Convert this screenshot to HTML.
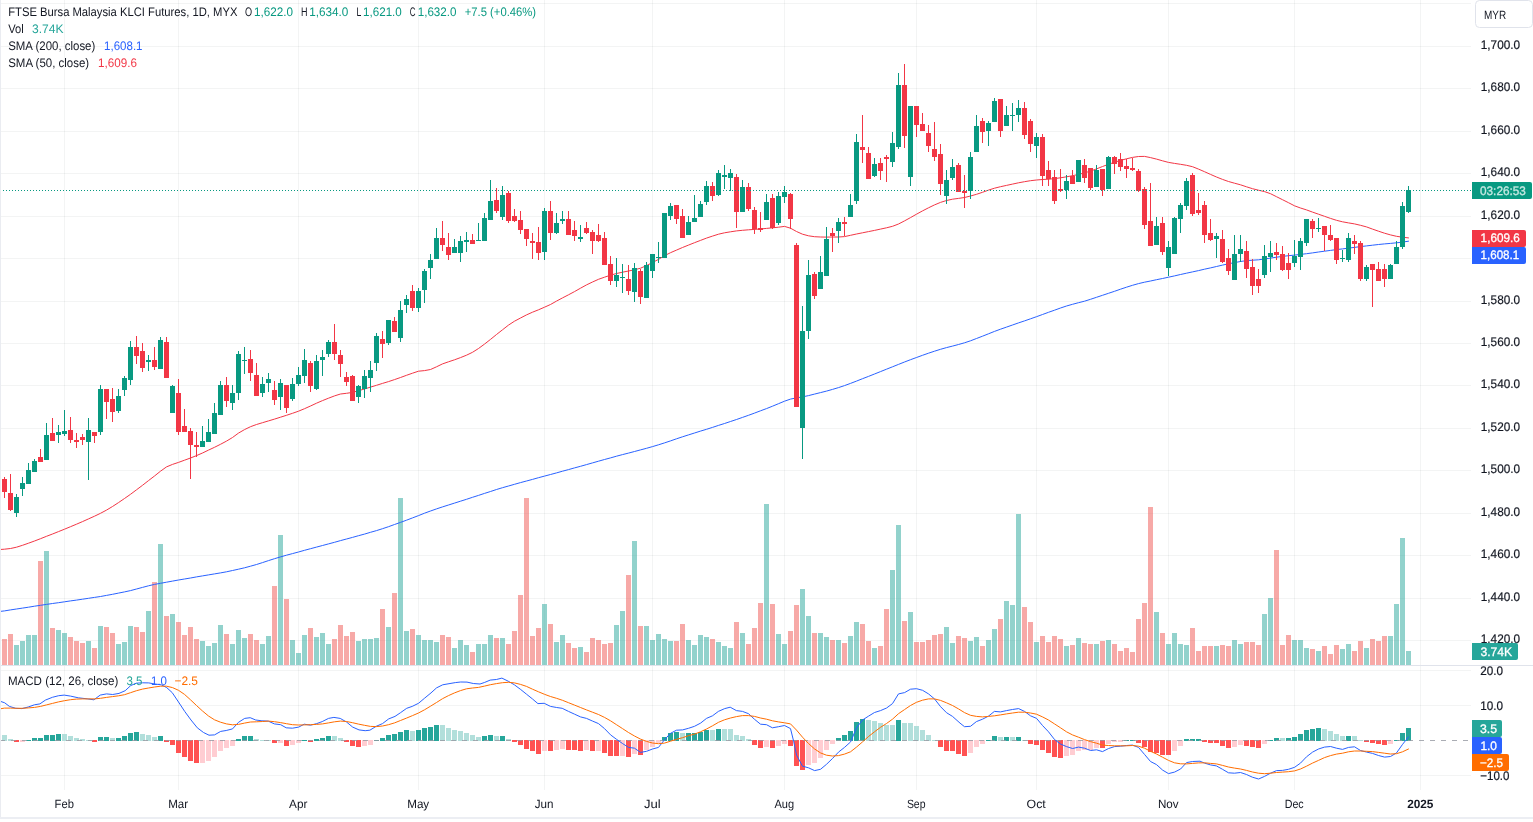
<!DOCTYPE html>
<html lang="en"><head><meta charset="utf-8"><title>FTSE Bursa Malaysia KLCI Futures</title>
<style>html,body{margin:0;padding:0;background:#fff;overflow:hidden}svg text{font-family:"Liberation Sans", Arial, sans-serif;white-space:pre;text-rendering:geometricPrecision}</style>
</head><body>
<svg width="1533" height="822" viewBox="0 0 1533 822" style="display:block;will-change:transform">
<rect width="1533" height="822" fill="#fff"/>
<g shape-rendering="crispEdges" fill="rgba(42,46,57,0.055)"><rect x="1" y="3" width="1470" height="1"/><rect x="1" y="46" width="1470" height="1"/><rect x="1" y="88" width="1470" height="1"/><rect x="1" y="131" width="1470" height="1"/><rect x="1" y="173" width="1470" height="1"/><rect x="1" y="216" width="1470" height="1"/><rect x="1" y="258" width="1470" height="1"/><rect x="1" y="301" width="1470" height="1"/><rect x="1" y="343" width="1470" height="1"/><rect x="1" y="385" width="1470" height="1"/><rect x="1" y="428" width="1470" height="1"/><rect x="1" y="470" width="1470" height="1"/><rect x="1" y="513" width="1470" height="1"/><rect x="1" y="555" width="1470" height="1"/><rect x="1" y="598" width="1470" height="1"/><rect x="1" y="640" width="1470" height="1"/><rect x="1" y="670" width="1470" height="1"/><rect x="1" y="705" width="1470" height="1"/><rect x="1" y="775" width="1470" height="1"/><rect x="64" y="0" width="1" height="665"/><rect x="64" y="666" width="1" height="124"/><rect x="178" y="0" width="1" height="665"/><rect x="178" y="666" width="1" height="124"/><rect x="298" y="0" width="1" height="665"/><rect x="298" y="666" width="1" height="124"/><rect x="418" y="0" width="1" height="665"/><rect x="418" y="666" width="1" height="124"/><rect x="544" y="0" width="1" height="665"/><rect x="544" y="666" width="1" height="124"/><rect x="652" y="0" width="1" height="665"/><rect x="652" y="666" width="1" height="124"/><rect x="784" y="0" width="1" height="665"/><rect x="784" y="666" width="1" height="124"/><rect x="916" y="0" width="1" height="665"/><rect x="916" y="666" width="1" height="124"/><rect x="1036" y="0" width="1" height="665"/><rect x="1036" y="666" width="1" height="124"/><rect x="1168" y="0" width="1" height="665"/><rect x="1168" y="666" width="1" height="124"/><rect x="1294" y="0" width="1" height="665"/><rect x="1294" y="666" width="1" height="124"/><rect x="1420" y="0" width="1" height="665"/><rect x="1420" y="666" width="1" height="124"/></g>
<g shape-rendering="crispEdges"><path fill="rgba(38,166,154,0.5)" d="M14 645h5V665h-5zM20 641h5V665h-5zM26 635h5V665h-5zM32 635h5V665h-5zM44 551h5V665h-5zM56 630h5V665h-5zM62 633h5V665h-5zM86 641h5V665h-5zM98 626h5V665h-5zM116 644h5V665h-5zM122 642h5V665h-5zM128 626h5V665h-5zM146 611h5V665h-5zM158 544h5V665h-5zM170 614h5V665h-5zM200 641h5V665h-5zM206 646h5V665h-5zM212 643h5V665h-5zM218 625h5V665h-5zM230 644h5V665h-5zM236 630h5V665h-5zM242 638h5V665h-5zM260 644h5V665h-5zM266 636h5V665h-5zM278 535h5V665h-5zM290 640h5V665h-5zM296 653h5V665h-5zM302 635h5V665h-5zM314 637h5V665h-5zM320 633h5V665h-5zM326 644h5V665h-5zM356 641h5V665h-5zM362 639h5V665h-5zM368 639h5V665h-5zM374 638h5V665h-5zM386 627h5V665h-5zM398 498h5V665h-5zM404 631h5V665h-5zM416 635h5V665h-5zM422 640h5V665h-5zM428 640h5V665h-5zM434 642h5V665h-5zM452 648h5V665h-5zM458 640h5V665h-5zM464 645h5V665h-5zM476 644h5V665h-5zM482 644h5V665h-5zM488 635h5V665h-5zM500 638h5V665h-5zM542 604h5V665h-5zM554 642h5V665h-5zM560 635h5V665h-5zM578 647h5V665h-5zM614 625h5V665h-5zM620 611h5V665h-5zM632 541h5V665h-5zM644 626h5V665h-5zM650 640h5V665h-5zM656 634h5V665h-5zM662 639h5V665h-5zM668 641h5V665h-5zM686 640h5V665h-5zM692 645h5V665h-5zM698 635h5V665h-5zM704 637h5V665h-5zM716 642h5V665h-5zM722 646h5V665h-5zM728 648h5V665h-5zM740 633h5V665h-5zM764 504h5V665h-5zM776 634h5V665h-5zM782 644h5V665h-5zM800 589h5V665h-5zM806 616h5V665h-5zM818 633h5V665h-5zM824 637h5V665h-5zM836 640h5V665h-5zM848 636h5V665h-5zM854 622h5V665h-5zM872 648h5V665h-5zM890 570h5V665h-5zM896 525h5V665h-5zM908 612h5V665h-5zM944 627h5V665h-5zM950 643h5V665h-5zM968 641h5V665h-5zM974 637h5V665h-5zM986 640h5V665h-5zM992 629h5V665h-5zM1004 601h5V665h-5zM1010 605h5V665h-5zM1016 514h5V665h-5zM1034 642h5V665h-5zM1064 646h5V665h-5zM1076 638h5V665h-5zM1094 644h5V665h-5zM1106 640h5V665h-5zM1154 612h5V665h-5zM1166 644h5V665h-5zM1172 633h5V665h-5zM1178 644h5V665h-5zM1184 645h5V665h-5zM1214 646h5V665h-5zM1232 640h5V665h-5zM1238 644h5V665h-5zM1262 614h5V665h-5zM1268 598h5V665h-5zM1292 640h5V665h-5zM1298 640h5V665h-5zM1304 648h5V665h-5zM1316 651h5V665h-5zM1340 649h5V665h-5zM1346 644h5V665h-5zM1364 648h5V665h-5zM1388 636h5V665h-5zM1394 604h5V665h-5zM1400 538h5V665h-5zM1406 651h5V665h-5z"/><path fill="rgba(239,83,80,0.5)" d="M2 639h5V665h-5zM8 634h5V665h-5zM38 561h5V665h-5zM50 628h5V665h-5zM68 637h5V665h-5zM74 641h5V665h-5zM80 643h5V665h-5zM92 648h5V665h-5zM104 627h5V665h-5zM110 633h5V665h-5zM134 627h5V665h-5zM140 632h5V665h-5zM152 582h5V665h-5zM164 616h5V665h-5zM176 622h5V665h-5zM182 635h5V665h-5zM188 627h5V665h-5zM194 639h5V665h-5zM224 634h5V665h-5zM248 634h5V665h-5zM254 640h5V665h-5zM272 586h5V665h-5zM284 599h5V665h-5zM308 628h5V665h-5zM332 639h5V665h-5zM338 625h5V665h-5zM344 636h5V665h-5zM350 632h5V665h-5zM380 609h5V665h-5zM392 593h5V665h-5zM410 629h5V665h-5zM440 635h5V665h-5zM446 637h5V665h-5zM470 652h5V665h-5zM494 638h5V665h-5zM506 644h5V665h-5zM512 631h5V665h-5zM518 595h5V665h-5zM524 498h5V665h-5zM530 636h5V665h-5zM536 628h5V665h-5zM548 624h5V665h-5zM566 643h5V665h-5zM572 648h5V665h-5zM584 652h5V665h-5zM590 638h5V665h-5zM596 640h5V665h-5zM602 644h5V665h-5zM608 643h5V665h-5zM626 575h5V665h-5zM638 626h5V665h-5zM674 641h5V665h-5zM680 624h5V665h-5zM710 639h5V665h-5zM734 622h5V665h-5zM746 644h5V665h-5zM752 628h5V665h-5zM758 603h5V665h-5zM770 604h5V665h-5zM788 631h5V665h-5zM794 605h5V665h-5zM812 633h5V665h-5zM830 640h5V665h-5zM842 643h5V665h-5zM860 624h5V665h-5zM866 641h5V665h-5zM878 646h5V665h-5zM884 609h5V665h-5zM902 621h5V665h-5zM914 642h5V665h-5zM920 642h5V665h-5zM926 640h5V665h-5zM932 635h5V665h-5zM938 634h5V665h-5zM956 636h5V665h-5zM962 638h5V665h-5zM980 646h5V665h-5zM998 619h5V665h-5zM1022 607h5V665h-5zM1028 622h5V665h-5zM1040 636h5V665h-5zM1046 642h5V665h-5zM1052 636h5V665h-5zM1058 639h5V665h-5zM1070 645h5V665h-5zM1082 643h5V665h-5zM1088 644h5V665h-5zM1100 641h5V665h-5zM1112 644h5V665h-5zM1118 651h5V665h-5zM1124 648h5V665h-5zM1130 652h5V665h-5zM1136 619h5V665h-5zM1142 603h5V665h-5zM1148 507h5V665h-5zM1160 633h5V665h-5zM1190 628h5V665h-5zM1196 651h5V665h-5zM1202 646h5V665h-5zM1208 646h5V665h-5zM1220 645h5V665h-5zM1226 646h5V665h-5zM1244 642h5V665h-5zM1250 642h5V665h-5zM1256 645h5V665h-5zM1274 550h5V665h-5zM1280 645h5V665h-5zM1286 635h5V665h-5zM1310 649h5V665h-5zM1322 646h5V665h-5zM1328 654h5V665h-5zM1334 645h5V665h-5zM1352 651h5V665h-5zM1358 641h5V665h-5zM1370 639h5V665h-5zM1376 641h5V665h-5zM1382 636h5V665h-5z"/><rect x="0" y="641" width="1" height="24" fill="rgba(239,83,80,0.5)"/></g>
<path d="M-1.5 611.6 L4.5 610.9 L10.5 609.9 L16.5 609.0 L22.5 608.1 L28.5 607.2 L34.5 606.2 L40.5 605.3 L46.5 604.4 L52.5 603.5 L58.5 602.7 L64.5 601.8 L70.5 600.9 L76.5 600.1 L82.5 599.2 L88.5 598.3 L94.5 597.4 L100.5 596.5 L106.5 595.4 L112.5 594.3 L118.5 593.1 L124.5 591.9 L130.5 590.6 L136.5 589.0 L142.5 587.4 L148.5 585.8 L154.5 584.4 L160.5 583.3 L166.5 582.2 L172.5 581.1 L178.5 580.0 L184.5 579.0 L190.5 578.0 L196.5 576.9 L202.5 575.9 L208.5 574.9 L214.5 573.9 L220.5 572.9 L226.5 571.8 L232.5 570.5 L238.5 569.2 L244.5 567.8 L250.5 566.2 L256.5 564.5 L262.5 562.6 L268.5 560.6 L274.5 558.7 L280.5 556.9 L286.5 555.2 L292.5 553.6 L298.5 552.0 L304.5 550.3 L310.5 548.7 L316.5 547.1 L322.5 545.5 L328.5 543.9 L334.5 542.3 L340.5 540.6 L346.5 539.0 L352.5 537.4 L358.5 535.7 L364.5 534.1 L370.5 532.3 L376.5 530.6 L382.5 528.7 L388.5 526.7 L394.5 524.5 L400.5 522.4 L406.5 520.2 L412.5 517.9 L418.5 515.6 L424.5 513.2 L430.5 511.0 L436.5 508.9 L442.5 506.9 L448.5 505.0 L454.5 503.1 L460.5 501.2 L466.5 499.3 L472.5 497.3 L478.5 495.4 L484.5 493.4 L490.5 491.5 L496.5 489.5 L502.5 487.7 L508.5 486.0 L514.5 484.3 L520.5 482.6 L526.5 481.0 L532.5 479.4 L538.5 477.7 L544.5 476.1 L550.5 474.5 L556.5 472.9 L562.5 471.2 L568.5 469.6 L574.5 467.9 L580.5 466.3 L586.5 464.6 L592.5 462.9 L598.5 461.2 L604.5 459.5 L610.5 457.9 L616.5 456.2 L622.5 454.6 L628.5 453.1 L634.5 451.5 L640.5 449.9 L646.5 448.3 L652.5 446.6 L658.5 444.8 L664.5 442.9 L670.5 440.9 L676.5 438.8 L682.5 436.8 L688.5 434.9 L694.5 433.0 L700.5 431.1 L706.5 429.3 L712.5 427.4 L718.5 425.4 L724.5 423.5 L730.5 421.5 L736.5 419.5 L742.5 417.4 L748.5 415.3 L754.5 413.1 L760.5 410.8 L766.5 408.6 L772.5 406.2 L778.5 403.7 L784.5 401.2 L790.5 399.1 L796.5 397.9 L802.5 396.9 L808.5 395.6 L814.5 394.1 L820.5 392.6 L826.5 391.1 L832.5 389.4 L838.5 387.6 L844.5 385.6 L850.5 383.4 L856.5 381.1 L862.5 378.7 L868.5 376.4 L874.5 374.0 L880.5 371.6 L886.5 369.2 L892.5 366.8 L898.5 364.4 L904.5 362.0 L910.5 359.7 L916.5 357.5 L922.5 355.3 L928.5 353.2 L934.5 351.2 L940.5 349.3 L946.5 347.6 L952.5 346.1 L958.5 344.5 L964.5 342.8 L970.5 340.8 L976.5 338.5 L982.5 336.2 L988.5 333.8 L994.5 331.4 L1000.5 329.2 L1006.5 327.1 L1012.5 325.0 L1018.5 322.9 L1024.5 320.9 L1030.5 318.8 L1036.5 316.7 L1042.5 314.5 L1048.5 312.3 L1054.5 310.2 L1060.5 308.0 L1066.5 306.0 L1072.5 304.3 L1078.5 302.7 L1084.5 301.2 L1090.5 299.3 L1096.5 297.3 L1102.5 295.3 L1108.5 293.3 L1114.5 291.3 L1120.5 289.2 L1126.5 287.2 L1132.5 285.3 L1138.5 283.6 L1144.5 282.2 L1150.5 281.0 L1156.5 279.7 L1162.5 278.5 L1168.5 277.2 L1174.5 275.9 L1180.5 274.5 L1186.5 273.2 L1192.5 271.9 L1198.5 270.6 L1204.5 269.2 L1210.5 267.9 L1216.5 266.5 L1222.5 265.1 L1228.5 263.8 L1234.5 262.6 L1240.5 261.5 L1246.5 260.6 L1252.5 260.2 L1258.5 259.8 L1264.5 259.0 L1270.5 258.1 L1276.5 257.2 L1282.5 256.4 L1288.5 255.7 L1294.5 255.1 L1300.5 254.4 L1306.5 253.7 L1312.5 252.9 L1318.5 252.0 L1324.5 251.2 L1330.5 250.4 L1336.5 249.6 L1342.5 248.9 L1348.5 248.1 L1354.5 247.4 L1360.5 246.6 L1366.5 245.9 L1372.5 245.2 L1378.5 244.5 L1384.5 243.9 L1390.5 243.4 L1396.5 242.8 L1402.5 242.1 L1408.5 241.2" fill="none" stroke="#2962ff" stroke-width="1" stroke-linejoin="round" stroke-linecap="round"/>
<path d="M-1.5 549.6 L4.5 549.2 L10.5 548.5 L16.5 547.2 L22.5 545.3 L28.5 543.2 L34.5 541.0 L40.5 538.7 L46.5 536.3 L52.5 534.0 L58.5 531.6 L64.5 529.2 L70.5 526.7 L76.5 524.2 L82.5 521.6 L88.5 518.9 L94.5 516.2 L100.5 513.3 L106.5 510.1 L112.5 506.5 L118.5 502.6 L124.5 498.5 L130.5 494.3 L136.5 489.8 L142.5 485.3 L148.5 480.6 L154.5 476.0 L160.5 471.2 L166.5 466.9 L172.5 464.4 L178.5 462.4 L184.5 460.2 L190.5 458.0 L196.5 455.6 L202.5 453.0 L208.5 450.1 L214.5 447.3 L220.5 444.3 L226.5 441.1 L232.5 437.5 L238.5 433.1 L244.5 429.6 L250.5 426.7 L256.5 424.5 L262.5 422.7 L268.5 420.9 L274.5 419.1 L280.5 417.2 L286.5 415.3 L292.5 413.3 L298.5 411.2 L304.5 408.7 L310.5 406.0 L316.5 403.2 L322.5 400.6 L328.5 398.2 L334.5 395.9 L340.5 394.0 L346.5 393.3 L352.5 392.4 L358.5 390.7 L364.5 389.0 L370.5 387.1 L376.5 385.3 L382.5 383.4 L388.5 381.6 L394.5 379.6 L400.5 377.5 L406.5 375.3 L412.5 373.2 L418.5 371.2 L424.5 370.6 L430.5 369.5 L436.5 366.8 L442.5 363.9 L448.5 361.8 L454.5 359.8 L460.5 357.6 L466.5 355.2 L472.5 352.3 L478.5 348.5 L484.5 344.1 L490.5 339.4 L496.5 334.5 L502.5 329.8 L508.5 325.1 L514.5 321.2 L520.5 318.0 L526.5 314.9 L532.5 312.2 L538.5 309.8 L544.5 307.2 L550.5 304.5 L556.5 301.1 L562.5 297.9 L568.5 294.8 L574.5 291.6 L580.5 288.2 L586.5 284.9 L592.5 282.0 L598.5 279.3 L604.5 277.2 L610.5 275.2 L616.5 273.5 L622.5 272.2 L628.5 271.0 L634.5 269.8 L640.5 268.2 L646.5 265.6 L652.5 262.5 L658.5 259.4 L664.5 255.7 L670.5 252.7 L676.5 250.1 L682.5 247.5 L688.5 245.1 L694.5 242.7 L700.5 240.4 L706.5 238.1 L712.5 236.1 L718.5 234.2 L724.5 232.8 L730.5 231.8 L736.5 230.9 L742.5 230.3 L748.5 229.8 L754.5 229.4 L760.5 229.0 L766.5 228.4 L772.5 227.8 L778.5 227.2 L784.5 226.4 L790.5 228.2 L796.5 231.5 L802.5 234.2 L808.5 235.8 L814.5 236.7 L820.5 237.0 L826.5 237.1 L832.5 237.0 L838.5 237.0 L844.5 236.6 L850.5 235.3 L856.5 234.0 L862.5 232.8 L868.5 231.6 L874.5 230.4 L880.5 229.1 L886.5 227.8 L892.5 226.3 L898.5 224.0 L904.5 220.9 L910.5 217.6 L916.5 214.2 L922.5 210.9 L928.5 207.8 L934.5 204.9 L940.5 202.4 L946.5 200.5 L952.5 199.2 L958.5 198.4 L964.5 197.5 L970.5 196.0 L976.5 194.3 L982.5 192.3 L988.5 190.1 L994.5 188.2 L1000.5 186.7 L1006.5 185.4 L1012.5 184.1 L1018.5 182.8 L1024.5 181.7 L1030.5 180.7 L1036.5 180.0 L1042.5 179.5 L1048.5 179.2 L1054.5 178.6 L1060.5 177.8 L1066.5 176.8 L1072.5 175.7 L1078.5 174.4 L1084.5 172.9 L1090.5 171.1 L1096.5 168.9 L1102.5 166.5 L1108.5 164.3 L1114.5 162.3 L1120.5 160.4 L1126.5 158.8 L1132.5 157.4 L1138.5 156.5 L1144.5 156.4 L1150.5 157.6 L1156.5 159.1 L1162.5 160.8 L1168.5 162.4 L1174.5 163.4 L1180.5 164.3 L1186.5 165.3 L1192.5 166.7 L1198.5 169.1 L1204.5 171.7 L1210.5 174.4 L1216.5 177.0 L1222.5 179.4 L1228.5 181.5 L1234.5 183.2 L1240.5 184.8 L1246.5 186.8 L1252.5 188.7 L1258.5 190.2 L1264.5 191.6 L1270.5 193.7 L1276.5 196.7 L1282.5 199.7 L1288.5 202.7 L1294.5 205.8 L1300.5 208.0 L1306.5 209.9 L1312.5 212.1 L1318.5 214.2 L1324.5 216.3 L1330.5 218.4 L1336.5 220.3 L1342.5 221.8 L1348.5 222.9 L1354.5 223.9 L1360.5 225.3 L1366.5 226.9 L1372.5 229.1 L1378.5 231.2 L1384.5 233.2 L1390.5 234.9 L1396.5 236.3 L1402.5 237.2 L1408.5 237.9" fill="none" stroke="#f23645" stroke-width="1" stroke-linejoin="round" stroke-linecap="round"/>
<g shape-rendering="crispEdges"><path fill="#089981" d="M16 494h1V517h-1zM14 497h5V513h-5zM22 477h1V496h-1zM20 483h5V489h-5zM28 463h1V484h-1zM26 470h5V484h-5zM34 459h1V472h-1zM32 461h5V472h-5zM46 423h1V460h-1zM44 435h5V460h-5zM58 425h1V443h-1zM56 432h5V435h-5zM64 410h1V436h-1zM62 431h5V434h-5zM88 418h1V480h-1zM86 430h5V442h-5zM100 385h1V435h-1zM98 389h5V432h-5zM118 389h1V413h-1zM116 396h5V411h-5zM124 376h1V396h-1zM122 378h5V390h-5zM130 341h1V385h-1zM128 347h5V380h-5zM148 355h1V371h-1zM146 360h5V362h-5zM160 337h1V369h-1zM158 340h5V369h-5zM172 385h1V413h-1zM170 386h5V413h-5zM202 426h1V447h-1zM200 441h5V447h-5zM208 419h1V442h-1zM206 432h5V442h-5zM214 403h1V434h-1zM212 413h5V434h-5zM220 381h1V415h-1zM218 385h5V415h-5zM232 385h1V410h-1zM230 393h5V403h-5zM238 351h1V400h-1zM236 354h5V393h-5zM244 347h1V374h-1zM242 360h5V361h-5zM262 377h1V397h-1zM260 384h5V393h-5zM268 373h1V392h-1zM266 379h5V383h-5zM280 379h1V410h-1zM278 383h5V397h-5zM292 378h1V401h-1zM290 384h5V399h-5zM298 367h1V386h-1zM296 375h5V384h-5zM304 349h1V383h-1zM302 360h5V376h-5zM316 355h1V390h-1zM314 361h5V389h-5zM322 350h1V376h-1zM320 357h5V360h-5zM328 340h1V357h-1zM326 342h5V354h-5zM358 385h1V403h-1zM356 386h5V397h-5zM364 370h1V398h-1zM362 376h5V389h-5zM370 361h1V392h-1zM368 370h5V378h-5zM376 333h1V371h-1zM374 336h5V363h-5zM388 320h1V345h-1zM386 320h5V343h-5zM400 301h1V342h-1zM398 310h5V338h-5zM406 295h1V313h-1zM404 299h5V305h-5zM418 288h1V312h-1zM416 291h5V308h-5zM424 269h1V303h-1zM422 271h5V290h-5zM430 254h1V279h-1zM428 260h5V268h-5zM436 228h1V259h-1zM434 238h5V259h-5zM454 239h1V253h-1zM452 247h5V253h-5zM460 236h1V262h-1zM458 241h5V253h-5zM466 232h1V252h-1zM464 240h5V242h-5zM478 223h1V241h-1zM476 240h5V241h-5zM484 213h1V241h-1zM482 218h5V241h-5zM490 180h1V220h-1zM488 201h5V220h-5zM502 186h1V220h-1zM500 195h5V217h-5zM544 208h1V260h-1zM542 211h5V252h-5zM556 213h1V234h-1zM554 223h5V233h-5zM562 211h1V224h-1zM560 219h5V221h-5zM580 225h1V242h-1zM578 237h5V239h-5zM616 258h1V287h-1zM614 275h5V281h-5zM622 264h1V293h-1zM620 277h5V278h-5zM634 263h1V302h-1zM632 268h5V292h-5zM646 262h1V298h-1zM644 265h5V298h-5zM652 254h1V278h-1zM650 254h5V271h-5zM658 242h1V263h-1zM656 257h5V258h-5zM664 213h1V258h-1zM662 213h5V258h-5zM670 203h1V220h-1zM668 206h5V216h-5zM688 216h1V235h-1zM686 222h5V235h-5zM694 195h1V222h-1zM692 218h5V222h-5zM700 201h1V217h-1zM698 204h5V217h-5zM706 181h1V205h-1zM704 186h5V202h-5zM718 170h1V196h-1zM716 173h5V195h-5zM724 165h1V189h-1zM722 175h5V177h-5zM730 169h1V191h-1zM728 173h5V178h-5zM742 180h1V212h-1zM740 187h5V212h-5zM766 194h1V220h-1zM764 202h5V220h-5zM778 192h1V225h-1zM776 196h5V223h-5zM784 186h1V203h-1zM782 192h5V197h-5zM802 306h1V459h-1zM800 331h5V428h-5zM808 260h1V339h-1zM806 275h5V331h-5zM820 256h1V289h-1zM818 272h5V289h-5zM826 227h1V276h-1zM824 239h5V276h-5zM838 218h1V243h-1zM836 222h5V231h-5zM850 194h1V217h-1zM848 205h5V217h-5zM856 134h1V204h-1zM854 142h5V201h-5zM874 158h1V177h-1zM872 164h5V176h-5zM892 132h1V167h-1zM890 143h5V162h-5zM898 73h1V149h-1zM896 85h5V147h-5zM910 106h1V186h-1zM908 106h5V177h-5zM946 170h1V204h-1zM944 180h5V196h-5zM952 159h1V180h-1zM950 167h5V178h-5zM970 152h1V199h-1zM968 157h5V191h-5zM976 115h1V152h-1zM974 126h5V152h-5zM988 121h1V146h-1zM986 123h5V131h-5zM994 98h1V122h-1zM992 101h5V122h-5zM1006 106h1V126h-1zM1004 115h5V126h-5zM1012 103h1V131h-1zM1010 115h5V116h-5zM1018 100h1V122h-1zM1016 108h5V115h-5zM1036 133h1V158h-1zM1034 137h5V146h-5zM1066 175h1V199h-1zM1064 181h5V190h-5zM1078 160h1V182h-1zM1076 160h5V182h-5zM1096 165h1V187h-1zM1094 170h5V187h-5zM1108 156h1V189h-1zM1106 157h5V189h-5zM1156 217h1V245h-1zM1154 226h5V245h-5zM1168 241h1V276h-1zM1166 247h5V268h-5zM1174 217h1V254h-1zM1172 218h5V254h-5zM1180 203h1V233h-1zM1178 205h5V219h-5zM1186 178h1V210h-1zM1184 181h5V206h-5zM1216 233h1V258h-1zM1214 236h5V239h-5zM1234 235h1V280h-1zM1232 254h5V280h-5zM1240 235h1V262h-1zM1238 249h5V254h-5zM1264 245h1V278h-1zM1262 256h5V275h-5zM1270 241h1V272h-1zM1268 253h5V257h-5zM1294 240h1V267h-1zM1292 256h5V263h-5zM1300 238h1V270h-1zM1298 241h5V257h-5zM1306 219h1V246h-1zM1304 219h5V243h-5zM1318 218h1V232h-1zM1316 228h5V229h-5zM1342 250h1V262h-1zM1340 258h5V259h-5zM1348 233h1V262h-1zM1346 238h5V260h-5zM1366 265h1V281h-1zM1364 267h5V279h-5zM1390 264h1V279h-1zM1388 265h5V279h-5zM1396 241h1V264h-1zM1394 247h5V264h-5zM1402 202h1V249h-1zM1400 206h5V247h-5zM1408 186h1V213h-1zM1406 190h5V212h-5z"/><path fill="#f23645" d="M4 477h1V498h-1zM2 479h5V492h-5zM10 474h1V511h-1zM8 493h5V510h-5zM40 449h1V462h-1zM38 457h5V462h-5zM52 418h1V441h-1zM50 433h5V441h-5zM70 417h1V443h-1zM68 430h5V440h-5zM76 433h1V448h-1zM74 440h5V442h-5zM82 434h1V445h-1zM80 437h5V440h-5zM94 432h1V443h-1zM92 432h5V436h-5zM106 389h1V419h-1zM104 389h5V402h-5zM112 388h1V422h-1zM110 399h5V412h-5zM136 336h1V364h-1zM134 347h5V356h-5zM142 343h1V372h-1zM140 351h5V368h-5zM154 347h1V370h-1zM152 360h5V367h-5zM166 337h1V378h-1zM164 342h5V378h-5zM178 379h1V435h-1zM176 393h5V432h-5zM184 409h1V432h-1zM182 426h5V432h-5zM190 428h1V479h-1zM188 431h5V445h-5zM196 432h1V457h-1zM194 445h5V447h-5zM226 377h1V407h-1zM224 385h5V401h-5zM250 350h1V381h-1zM248 359h5V373h-5zM256 363h1V396h-1zM254 375h5V396h-5zM274 381h1V405h-1zM272 390h5V400h-5zM286 385h1V413h-1zM284 385h5V408h-5zM310 361h1V392h-1zM308 363h5V386h-5zM334 324h1V360h-1zM332 342h5V354h-5zM340 350h1V377h-1zM338 355h5V364h-5zM346 372h1V386h-1zM344 377h5V382h-5zM352 375h1V401h-1zM350 376h5V401h-5zM382 331h1V358h-1zM380 339h5V344h-5zM394 317h1V332h-1zM392 321h5V332h-5zM412 285h1V311h-1zM410 291h5V308h-5zM442 221h1V251h-1zM440 238h5V245h-5zM448 233h1V260h-1zM446 247h5V255h-5zM472 234h1V244h-1zM470 240h5V244h-5zM496 188h1V213h-1zM494 200h5V211h-5zM508 191h1V223h-1zM506 193h5V221h-5zM514 209h1V222h-1zM512 216h5V221h-5zM520 211h1V234h-1zM518 220h5V230h-5zM526 229h1V246h-1zM524 229h5V239h-5zM532 233h1V259h-1zM530 241h5V243h-5zM538 227h1V260h-1zM536 242h5V253h-5zM550 201h1V240h-1zM548 211h5V233h-5zM568 211h1V235h-1zM566 219h5V235h-5zM574 221h1V241h-1zM572 230h5V236h-5zM586 222h1V234h-1zM584 228h5V233h-5zM592 230h1V254h-1zM590 232h5V241h-5zM598 224h1V242h-1zM596 235h5V241h-5zM604 232h1V265h-1zM602 238h5V265h-5zM610 256h1V285h-1zM608 264h5V281h-5zM628 265h1V295h-1zM626 279h5V291h-5zM640 269h1V304h-1zM638 271h5V297h-5zM676 205h1V224h-1zM674 205h5V219h-5zM682 209h1V238h-1zM680 216h5V238h-5zM712 182h1V201h-1zM710 186h5V196h-5zM736 174h1V228h-1zM734 177h5V212h-5zM748 183h1V211h-1zM746 187h5V209h-5zM754 207h1V234h-1zM752 210h5V229h-5zM760 212h1V232h-1zM758 228h5V230h-5zM772 194h1V229h-1zM770 198h5V228h-5zM790 193h1V229h-1zM788 194h5V219h-5zM796 243h1V407h-1zM794 245h5V407h-5zM814 272h1V299h-1zM812 274h5V296h-5zM832 228h1V252h-1zM830 233h5V236h-5zM844 217h1V236h-1zM842 222h5V224h-5zM862 115h1V163h-1zM860 147h5V150h-5zM868 147h1V179h-1zM866 153h5V179h-5zM880 158h1V180h-1zM878 163h5V171h-5zM886 155h1V182h-1zM884 157h5V159h-5zM904 64h1V148h-1zM902 85h5V136h-5zM916 106h1V137h-1zM914 106h5V125h-5zM922 113h1V131h-1zM920 124h5V131h-5zM928 125h1V152h-1zM926 133h5V146h-5zM934 122h1V161h-1zM932 149h5V157h-5zM940 144h1V195h-1zM938 154h5V184h-5zM958 163h1V192h-1zM956 165h5V192h-5zM964 175h1V208h-1zM962 191h5V193h-5zM982 118h1V143h-1zM980 121h5V132h-5zM1000 99h1V137h-1zM998 99h5V131h-5zM1024 102h1V139h-1zM1022 108h5V135h-5zM1030 119h1V152h-1zM1028 121h5V144h-5zM1042 134h1V186h-1zM1040 137h5V176h-5zM1048 161h1V186h-1zM1046 170h5V179h-5zM1054 170h1V204h-1zM1052 177h5V201h-5zM1060 169h1V192h-1zM1058 189h5V191h-5zM1072 170h1V184h-1zM1070 176h5V184h-5zM1084 159h1V183h-1zM1082 165h5V178h-5zM1090 168h1V190h-1zM1088 168h5V188h-5zM1102 169h1V196h-1zM1100 169h5V190h-5zM1114 156h1V174h-1zM1112 157h5V164h-5zM1120 153h1V171h-1zM1118 159h5V167h-5zM1126 159h1V178h-1zM1124 166h5V169h-5zM1132 158h1V171h-1zM1130 168h5V170h-5zM1138 169h1V192h-1zM1136 171h5V191h-5zM1144 187h1V229h-1zM1142 189h5V225h-5zM1150 183h1V246h-1zM1148 221h5V246h-5zM1162 217h1V255h-1zM1160 223h5V252h-5zM1192 173h1V216h-1zM1190 175h5V214h-5zM1198 193h1V215h-1zM1196 210h5V213h-5zM1204 201h1V243h-1zM1202 205h5V235h-5zM1210 219h1V241h-1zM1208 233h5V240h-5zM1222 230h1V263h-1zM1220 239h5V262h-5zM1228 249h1V275h-1zM1226 258h5V271h-5zM1246 241h1V278h-1zM1244 251h5V269h-5zM1252 259h1V295h-1zM1250 267h5V286h-5zM1258 269h1V293h-1zM1256 279h5V286h-5zM1276 243h1V260h-1zM1274 252h5V255h-5zM1282 246h1V271h-1zM1280 254h5V270h-5zM1288 253h1V279h-1zM1286 263h5V270h-5zM1312 219h1V238h-1zM1310 221h5V229h-5zM1324 226h1V251h-1zM1322 226h5V235h-5zM1330 225h1V241h-1zM1328 235h5V240h-5zM1336 238h1V264h-1zM1334 238h5V260h-5zM1354 235h1V254h-1zM1352 241h5V244h-5zM1360 241h1V281h-1zM1358 243h5V279h-5zM1372 264h1V307h-1zM1370 264h5V270h-5zM1378 262h1V281h-1zM1376 269h5V281h-5zM1384 264h1V287h-1zM1382 269h5V279h-5z"/></g>
<g shape-rendering="crispEdges"><line x1="0" y1="190.5" x2="1471" y2="190.5" stroke="#089981" stroke-width="1" stroke-dasharray="1 2"/></g>
<rect x="0" y="665" width="1533" height="1" fill="#e0e3eb" shape-rendering="crispEdges"/>
<g shape-rendering="crispEdges"><path fill="#26a69a" d="M26 740h5V741h-5zM32 738h5V741h-5zM38 738h5V741h-5zM44 735h5V741h-5zM50 735h5V741h-5zM56 734h5V741h-5zM98 737h5V741h-5zM104 737h5V741h-5zM116 738h5V741h-5zM122 736h5V741h-5zM128 733h5V741h-5zM134 732h5V741h-5zM158 736h5V741h-5zM236 739h5V741h-5zM242 736h5V741h-5zM248 736h5V741h-5zM302 740h5V741h-5zM314 739h5V741h-5zM320 738h5V741h-5zM326 736h5V741h-5zM374 740h5V741h-5zM380 738h5V741h-5zM386 735h5V741h-5zM392 734h5V741h-5zM398 732h5V741h-5zM404 730h5V741h-5zM416 730h5V741h-5zM422 728h5V741h-5zM428 727h5V741h-5zM434 725h5V741h-5zM482 736h5V741h-5zM488 735h5V741h-5zM500 736h5V741h-5zM662 737h5V741h-5zM668 733h5V741h-5zM674 732h5V741h-5zM686 733h5V741h-5zM692 733h5V741h-5zM698 732h5V741h-5zM704 730h5V741h-5zM716 729h5V741h-5zM836 738h5V741h-5zM842 735h5V741h-5zM848 731h5V741h-5zM854 722h5V741h-5zM860 719h5V741h-5zM896 720h5V741h-5zM986 740h5V741h-5zM992 736h5V741h-5zM1004 737h5V741h-5zM1016 737h5V741h-5zM1124 740h5V741h-5zM1130 740h5V741h-5zM1184 739h5V741h-5zM1190 739h5V741h-5zM1196 739h5V741h-5zM1268 740h5V741h-5zM1274 738h5V741h-5zM1286 738h5V741h-5zM1292 737h5V741h-5zM1298 734h5V741h-5zM1304 730h5V741h-5zM1310 729h5V741h-5zM1316 728h5V741h-5zM1346 736h5V741h-5zM1394 740h5V741h-5zM1400 733h5V741h-5zM1406 728h5V741h-5z"/><path fill="#b2dfdb" d="M2 735h5V741h-5zM8 739h5V741h-5zM62 734h5V741h-5zM68 736h5V741h-5zM74 738h5V741h-5zM80 739h5V741h-5zM86 740h5V741h-5zM110 738h5V741h-5zM140 734h5V741h-5zM146 735h5V741h-5zM152 737h5V741h-5zM254 739h5V741h-5zM260 740h5V741h-5zM266 740h5V741h-5zM332 736h5V741h-5zM338 738h5V741h-5zM410 731h5V741h-5zM440 725h5V741h-5zM446 728h5V741h-5zM452 730h5V741h-5zM458 731h5V741h-5zM464 733h5V741h-5zM470 735h5V741h-5zM476 737h5V741h-5zM494 736h5V741h-5zM506 739h5V741h-5zM680 733h5V741h-5zM710 730h5V741h-5zM722 729h5V741h-5zM728 729h5V741h-5zM734 735h5V741h-5zM740 736h5V741h-5zM746 739h5V741h-5zM866 720h5V741h-5zM872 721h5V741h-5zM878 723h5V741h-5zM884 725h5V741h-5zM890 725h5V741h-5zM902 723h5V741h-5zM908 723h5V741h-5zM914 726h5V741h-5zM920 730h5V741h-5zM926 735h5V741h-5zM932 740h5V741h-5zM998 737h5V741h-5zM1010 737h5V741h-5zM1022 740h5V741h-5zM1280 738h5V741h-5zM1322 729h5V741h-5zM1328 731h5V741h-5zM1334 734h5V741h-5zM1340 736h5V741h-5zM1352 736h5V741h-5zM1358 740h5V741h-5z"/><path fill="#ff5252" d="M14 740h5V742h-5zM92 740h5V742h-5zM164 740h5V742h-5zM170 740h5V745h-5zM176 740h5V753h-5zM182 740h5V757h-5zM188 740h5V761h-5zM194 740h5V763h-5zM272 740h5V743h-5zM284 740h5V746h-5zM308 740h5V742h-5zM344 740h5V742h-5zM350 740h5V746h-5zM356 740h5V747h-5zM512 740h5V742h-5zM518 740h5V745h-5zM524 740h5V749h-5zM530 740h5V751h-5zM536 740h5V754h-5zM548 740h5V751h-5zM566 740h5V750h-5zM572 740h5V750h-5zM578 740h5V751h-5zM590 740h5V751h-5zM602 740h5V753h-5zM608 740h5V756h-5zM614 740h5V756h-5zM626 740h5V757h-5zM638 740h5V755h-5zM752 740h5V745h-5zM758 740h5V748h-5zM770 740h5V748h-5zM788 740h5V746h-5zM794 740h5V766h-5zM800 740h5V770h-5zM938 740h5V747h-5zM944 740h5V751h-5zM950 740h5V751h-5zM956 740h5V754h-5zM962 740h5V756h-5zM1028 740h5V744h-5zM1034 740h5V745h-5zM1040 740h5V750h-5zM1046 740h5V753h-5zM1052 740h5V757h-5zM1058 740h5V758h-5zM1100 740h5V748h-5zM1136 740h5V743h-5zM1142 740h5V747h-5zM1148 740h5V752h-5zM1154 740h5V753h-5zM1160 740h5V755h-5zM1166 740h5V755h-5zM1202 740h5V742h-5zM1208 740h5V743h-5zM1214 740h5V743h-5zM1220 740h5V746h-5zM1226 740h5V748h-5zM1244 740h5V746h-5zM1250 740h5V747h-5zM1256 740h5V748h-5zM1364 740h5V742h-5zM1370 740h5V743h-5zM1376 740h5V744h-5zM1382 740h5V745h-5z"/><path fill="#ffcdd2" d="M20 740h5V742h-5zM200 740h5V763h-5zM206 740h5V761h-5zM212 740h5V757h-5zM218 740h5V751h-5zM224 740h5V748h-5zM230 740h5V746h-5zM278 740h5V743h-5zM290 740h5V745h-5zM296 740h5V743h-5zM362 740h5V746h-5zM368 740h5V745h-5zM542 740h5V751h-5zM554 740h5V750h-5zM560 740h5V749h-5zM584 740h5V750h-5zM596 740h5V751h-5zM620 740h5V756h-5zM632 740h5V754h-5zM644 740h5V750h-5zM650 740h5V747h-5zM656 740h5V743h-5zM764 740h5V747h-5zM776 740h5V746h-5zM782 740h5V744h-5zM806 740h5V765h-5zM812 740h5V763h-5zM818 740h5V758h-5zM824 740h5V750h-5zM830 740h5V744h-5zM968 740h5V753h-5zM974 740h5V747h-5zM980 740h5V744h-5zM1064 740h5V756h-5zM1070 740h5V755h-5zM1076 740h5V751h-5zM1082 740h5V750h-5zM1088 740h5V750h-5zM1094 740h5V748h-5zM1106 740h5V744h-5zM1112 740h5V742h-5zM1118 740h5V742h-5zM1172 740h5V751h-5zM1178 740h5V746h-5zM1232 740h5V747h-5zM1238 740h5V745h-5zM1262 740h5V744h-5zM1388 740h5V744h-5z"/><rect x="0" y="733" width="1" height="7" fill="#b2dfdb"/></g>
<g shape-rendering="crispEdges"><line x1="0" y1="740.5" x2="1471" y2="740.5" stroke="#9598a1" stroke-opacity="0.8" stroke-width="1" stroke-dasharray="5 6"/></g>
<path d="M0.0 701.2 L4.7 702.8 L9.4 706.4 L15.7 708.3 L21.9 708.6 L28.2 707.0 L34.4 704.8 L39.9 703.9 L45.4 700.1 L52.4 697.3 L58.7 695.7 L64.2 695.1 L70.5 696.1 L78.3 697.8 L87.7 698.9 L93.9 699.8 L100.2 695.1 L106.5 693.9 L112.7 694.5 L119.0 693.4 L125.2 690.7 L130.7 685.6 L136.2 683.2 L142.5 682.8 L148.7 682.9 L155.0 684.0 L161.3 684.8 L166.7 687.6 L172.2 692.6 L178.5 702.0 L184.7 711.4 L191.0 720.0 L197.3 727.8 L203.5 732.5 L209.0 735.2 L214.5 734.9 L220.7 731.4 L226.2 730.5 L232.5 728.9 L238.4 722.4 L244.7 718.4 L250.2 717.7 L255.7 720.0 L261.9 720.8 L268.2 721.1 L274.4 723.9 L280.7 724.7 L286.2 727.8 L292.4 728.2 L298.7 727.1 L304.2 724.2 L310.5 725.2 L316.7 723.6 L322.2 721.6 L328.5 718.4 L333.9 717.4 L340.2 718.4 L346.5 722.0 L352.7 727.1 L359.0 729.9 L365.2 730.7 L369.9 730.2 L376.2 726.3 L382.5 723.6 L388.7 718.9 L395.0 716.4 L400.5 712.7 L406.7 708.3 L412.2 706.4 L418.5 703.3 L424.7 698.1 L431.0 692.9 L436.5 687.9 L442.7 684.8 L449.0 683.7 L455.3 682.6 L460.7 682.0 L467.0 682.1 L473.3 683.5 L480.0 684.0 L484.7 682.4 L490.2 680.1 L496.4 679.5 L501.9 678.1 L508.2 681.2 L514.4 684.8 L520.7 689.5 L526.5 694.2 L532.4 698.9 L537.9 703.6 L544.2 703.3 L550.5 706.4 L556.7 707.5 L562.2 708.3 L568.5 711.4 L574.6 714.2 L580.5 716.9 L586.5 718.4 L592.6 721.1 L598.5 723.6 L604.5 728.6 L610.6 734.9 L616.5 739.3 L622.5 743.5 L628.6 747.4 L634.5 748.2 L640.5 752.4 L646.6 751.3 L652.5 749.0 L658.5 747.4 L664.6 739.6 L670.5 733.3 L676.5 730.2 L682.6 729.9 L688.5 728.3 L694.5 726.3 L700.6 723.1 L706.5 718.4 L712.5 715.8 L718.4 711.4 L724.7 708.6 L730.2 707.2 L736.4 710.6 L742.5 711.4 L748.5 713.7 L754.4 719.2 L760.5 724.2 L766.5 724.7 L772.4 727.8 L778.6 726.7 L784.5 725.5 L790.5 728.6 L793.6 741.1 L796.6 755.2 L802.5 766.2 L808.5 767.8 L814.6 770.6 L820.5 769.3 L826.5 764.3 L832.6 758.4 L838.5 752.1 L844.5 747.4 L850.6 741.9 L856.5 727.8 L862.5 720.0 L868.6 716.1 L874.5 712.5 L880.5 710.6 L886.6 708.0 L892.5 703.6 L898.5 693.9 L904.6 692.6 L910.5 689.2 L916.5 688.7 L922.6 690.3 L928.5 693.9 L934.5 698.9 L940.6 706.7 L946.5 712.7 L952.5 716.4 L960.0 723.1 L964.5 726.7 L970.5 726.3 L976.4 721.6 L982.5 719.2 L988.5 716.1 L994.4 711.4 L1000.5 711.9 L1006.5 710.6 L1012.4 709.5 L1018.6 708.6 L1024.5 711.4 L1030.5 715.8 L1036.6 718.4 L1042.5 725.5 L1048.5 731.8 L1054.6 739.6 L1060.5 744.0 L1066.5 746.6 L1072.6 748.5 L1078.5 747.1 L1084.5 748.2 L1090.6 750.5 L1096.5 749.8 L1102.5 751.6 L1108.6 748.5 L1114.5 746.6 L1120.5 746.2 L1126.6 745.5 L1132.5 745.1 L1138.5 747.4 L1144.6 754.5 L1150.5 761.5 L1156.5 764.6 L1162.6 770.1 L1168.5 773.6 L1174.5 772.1 L1180.6 769.0 L1186.5 762.6 L1192.5 761.5 L1200.0 761.2 L1204.5 763.1 L1210.5 764.9 L1216.4 765.9 L1222.5 769.3 L1228.5 772.8 L1234.4 773.2 L1240.5 772.5 L1246.5 774.5 L1252.4 777.2 L1258.6 779.0 L1264.5 776.4 L1270.5 773.2 L1276.6 770.6 L1282.5 770.4 L1288.5 769.3 L1294.6 767.3 L1300.5 763.1 L1306.5 756.8 L1312.6 752.1 L1318.5 749.0 L1324.5 747.1 L1330.6 746.5 L1336.5 748.2 L1342.5 749.4 L1348.6 747.4 L1354.5 746.8 L1360.5 750.5 L1366.6 752.1 L1372.5 753.4 L1378.5 755.5 L1384.6 757.1 L1390.5 756.5 L1396.5 752.9 L1402.6 744.3 L1408.5 736.9" fill="none" stroke="#2962ff" stroke-width="1" stroke-linejoin="round" stroke-linecap="round"/>
<path d="M-1.5 709.1 L4.5 708.1 L10.5 708.1 L16.5 708.3 L22.5 708.3 L28.5 707.9 L34.5 707.4 L40.5 706.4 L46.5 704.9 L52.5 703.4 L58.5 701.9 L64.5 700.7 L70.5 699.7 L76.5 699.1 L82.5 698.9 L88.5 698.9 L94.5 698.9 L100.5 698.3 L106.5 697.4 L112.5 696.6 L118.5 695.8 L124.5 694.7 L130.5 692.7 L136.5 690.7 L142.5 689.1 L148.5 688.0 L154.5 687.0 L160.5 686.2 L166.5 686.2 L172.5 687.6 L178.5 690.3 L184.5 694.4 L190.5 699.8 L196.5 705.5 L202.5 711.0 L208.5 716.0 L214.5 719.8 L220.5 722.2 L226.5 723.9 L232.5 724.8 L238.5 724.4 L244.5 723.1 L250.5 722.0 L256.5 721.8 L262.5 721.5 L268.5 721.1 L274.5 721.7 L280.5 722.6 L286.5 723.7 L292.5 724.7 L298.5 725.0 L304.5 724.9 L310.5 724.7 L316.5 724.4 L322.5 723.9 L328.5 722.9 L334.5 721.8 L340.5 721.1 L346.5 721.5 L352.5 722.7 L358.5 724.1 L364.5 725.3 L370.5 726.4 L376.5 726.6 L382.5 726.0 L388.5 724.7 L394.5 722.9 L400.5 720.5 L406.5 718.1 L412.5 715.6 L418.5 713.0 L424.5 709.8 L430.5 706.2 L436.5 702.5 L442.5 698.7 L448.5 695.6 L454.5 692.9 L460.5 690.6 L466.5 688.8 L472.5 688.0 L478.5 687.4 L484.5 686.1 L490.5 684.7 L496.5 683.6 L502.5 682.7 L508.5 682.3 L514.5 682.9 L520.5 684.4 L526.5 686.4 L532.5 689.2 L538.5 691.8 L544.5 694.3 L550.5 696.5 L556.5 698.3 L562.5 700.3 L568.5 702.7 L574.5 705.1 L580.5 707.5 L586.5 709.9 L592.5 712.2 L598.5 714.5 L604.5 717.4 L610.5 720.8 L616.5 724.7 L622.5 728.6 L628.5 732.5 L634.5 736.0 L640.5 739.1 L646.5 741.4 L652.5 743.0 L658.5 743.7 L664.5 743.1 L670.5 741.2 L676.5 739.3 L682.5 737.7 L688.5 735.7 L694.5 734.1 L700.5 731.8 L706.5 729.0 L712.5 725.8 L718.5 722.3 L724.5 719.8 L730.5 718.0 L736.5 716.6 L742.5 715.6 L748.5 715.6 L754.5 716.4 L760.5 718.0 L766.5 719.2 L772.5 720.8 L778.5 721.9 L784.5 722.8 L790.5 723.9 L796.5 730.1 L802.5 737.2 L808.5 743.5 L814.5 748.9 L820.5 752.9 L826.5 755.2 L832.5 756.0 L838.5 755.6 L844.5 754.1 L850.5 751.8 L856.5 747.1 L862.5 741.9 L868.5 736.5 L874.5 731.8 L880.5 727.3 L886.5 723.5 L892.5 719.2 L898.5 713.7 L904.5 709.6 L910.5 705.5 L916.5 702.3 L922.5 700.2 L928.5 698.9 L934.5 698.9 L940.5 700.4 L946.5 702.8 L952.5 705.5 L958.5 708.9 L964.5 712.6 L970.5 715.3 L976.5 716.4 L982.5 716.9 L988.5 716.4 L994.5 715.8 L1000.5 714.9 L1006.5 713.9 L1012.5 713.0 L1018.5 712.2 L1024.5 712.2 L1030.5 713.0 L1036.5 714.2 L1042.5 716.9 L1048.5 720.0 L1054.5 723.9 L1060.5 727.8 L1066.5 731.8 L1072.5 734.9 L1078.5 737.2 L1084.5 739.6 L1090.5 741.6 L1096.5 743.2 L1102.5 745.1 L1108.5 745.5 L1114.5 745.8 L1120.5 745.8 L1126.5 745.8 L1132.5 745.5 L1138.5 746.2 L1144.5 748.2 L1150.5 751.3 L1156.5 754.0 L1162.5 757.2 L1168.5 760.4 L1174.5 762.8 L1180.5 763.8 L1186.5 763.9 L1192.5 763.4 L1198.5 762.9 L1204.5 762.8 L1210.5 763.4 L1216.5 763.9 L1222.5 765.4 L1228.5 767.0 L1234.5 768.1 L1240.5 769.0 L1246.5 770.4 L1252.5 772.0 L1258.5 773.2 L1264.5 773.7 L1270.5 773.2 L1276.5 772.5 L1282.5 772.1 L1288.5 771.7 L1294.5 770.9 L1300.5 769.0 L1306.5 766.2 L1312.5 763.1 L1318.5 760.4 L1324.5 757.6 L1330.5 755.6 L1336.5 754.1 L1342.5 753.2 L1348.5 751.8 L1354.5 751.0 L1360.5 751.0 L1366.5 751.3 L1372.5 751.6 L1378.5 752.4 L1384.5 753.2 L1390.5 754.0 L1396.5 753.7 L1402.5 751.8 L1408.5 749.0" fill="none" stroke="#ff6d00" stroke-width="1" stroke-linejoin="round" stroke-linecap="round"/>
<rect x="0" y="0" width="1" height="818" fill="#eaecf1" shape-rendering="crispEdges"/>
<rect x="0" y="817" width="1533" height="2" fill="#eceef3" shape-rendering="crispEdges"/>
<text x="1480.8" y="48.7" font-size="12.5" fill="#131722" stroke="#131722" stroke-width="0.2" textLength="39.3" lengthAdjust="spacingAndGlyphs">1,700.0</text>
<text x="1480.8" y="90.7" font-size="12.5" fill="#131722" stroke="#131722" stroke-width="0.2" textLength="39.3" lengthAdjust="spacingAndGlyphs">1,680.0</text>
<text x="1480.8" y="133.7" font-size="12.5" fill="#131722" stroke="#131722" stroke-width="0.2" textLength="39.3" lengthAdjust="spacingAndGlyphs">1,660.0</text>
<text x="1480.8" y="175.7" font-size="12.5" fill="#131722" stroke="#131722" stroke-width="0.2" textLength="39.3" lengthAdjust="spacingAndGlyphs">1,640.0</text>
<text x="1480.8" y="218.7" font-size="12.5" fill="#131722" stroke="#131722" stroke-width="0.2" textLength="39.3" lengthAdjust="spacingAndGlyphs">1,620.0</text>
<text x="1480.8" y="260.7" font-size="12.5" fill="#131722" stroke="#131722" stroke-width="0.2" textLength="39.3" lengthAdjust="spacingAndGlyphs">1,600.0</text>
<text x="1480.8" y="303.7" font-size="12.5" fill="#131722" stroke="#131722" stroke-width="0.2" textLength="39.3" lengthAdjust="spacingAndGlyphs">1,580.0</text>
<text x="1480.8" y="345.7" font-size="12.5" fill="#131722" stroke="#131722" stroke-width="0.2" textLength="39.3" lengthAdjust="spacingAndGlyphs">1,560.0</text>
<text x="1480.8" y="387.7" font-size="12.5" fill="#131722" stroke="#131722" stroke-width="0.2" textLength="39.3" lengthAdjust="spacingAndGlyphs">1,540.0</text>
<text x="1480.8" y="430.7" font-size="12.5" fill="#131722" stroke="#131722" stroke-width="0.2" textLength="39.3" lengthAdjust="spacingAndGlyphs">1,520.0</text>
<text x="1480.8" y="472.7" font-size="12.5" fill="#131722" stroke="#131722" stroke-width="0.2" textLength="39.3" lengthAdjust="spacingAndGlyphs">1,500.0</text>
<text x="1480.8" y="515.7" font-size="12.5" fill="#131722" stroke="#131722" stroke-width="0.2" textLength="39.3" lengthAdjust="spacingAndGlyphs">1,480.0</text>
<text x="1480.8" y="557.7" font-size="12.5" fill="#131722" stroke="#131722" stroke-width="0.2" textLength="39.3" lengthAdjust="spacingAndGlyphs">1,460.0</text>
<text x="1480.8" y="600.7" font-size="12.5" fill="#131722" stroke="#131722" stroke-width="0.2" textLength="39.3" lengthAdjust="spacingAndGlyphs">1,440.0</text>
<text x="1480.8" y="642.7" font-size="12.5" fill="#131722" stroke="#131722" stroke-width="0.2" textLength="39.3" lengthAdjust="spacingAndGlyphs">1,420.0</text>
<text x="1480.3" y="675.0" font-size="12.5" fill="#131722" stroke="#131722" stroke-width="0.2" textLength="22.8" lengthAdjust="spacingAndGlyphs">20.0</text>
<text x="1480.3" y="710.0" font-size="12.5" fill="#131722" stroke="#131722" stroke-width="0.2" textLength="22.8" lengthAdjust="spacingAndGlyphs">10.0</text>
<text x="1480.3" y="780.0" font-size="12.5" fill="#131722" stroke="#131722" stroke-width="0.2" textLength="29.2" lengthAdjust="spacingAndGlyphs">−10.0</text>
<path d="M1472 182h58a2 2 0 0 1 2 2v13a2 2 0 0 1 -2 2h-58z" fill="#089981"/><text x="1480" y="194.7" font-size="12.4" fill="#c6e9e2" stroke="#c6e9e2" stroke-width="0.3" textLength="45.9" lengthAdjust="spacingAndGlyphs">03:26:53</text>
<path d="M1472 230h52a2 2 0 0 1 2 2v13a2 2 0 0 1 -2 2h-52z" fill="#f23645"/><text x="1480.6" y="241.9" font-size="12.4" fill="#fff" stroke="#fff" stroke-width="0.3" textLength="39.2" lengthAdjust="spacingAndGlyphs">1,609.6</text>
<path d="M1472 247h52a2 2 0 0 1 2 2v13a2 2 0 0 1 -2 2h-52z" fill="#2962ff"/><text x="1480.6" y="258.8" font-size="12.4" fill="#fff" stroke="#fff" stroke-width="0.3" textLength="38.6" lengthAdjust="spacingAndGlyphs">1,608.1</text>
<path d="M1472 643h44a2 2 0 0 1 2 2v13a2 2 0 0 1 -2 2h-44z" fill="#26a69a"/><text x="1480.4" y="655.8" font-size="12.4" fill="#fff" stroke="#fff" stroke-width="0.3" textLength="31.8" lengthAdjust="spacingAndGlyphs">3.74K</text>
<path d="M1472 720h28a2 2 0 0 1 2 2v13a2 2 0 0 1 -2 2h-28z" fill="#26a69a"/><text x="1480" y="732.9" font-size="12.4" fill="#fff" stroke="#fff" stroke-width="0.3" textLength="17.1" lengthAdjust="spacingAndGlyphs">3.5</text>
<path d="M1472 737h28a2 2 0 0 1 2 2v13a2 2 0 0 1 -2 2h-28z" fill="#2962ff"/><text x="1480.4" y="749.9" font-size="12.4" fill="#fff" stroke="#fff" stroke-width="0.3" textLength="16.6" lengthAdjust="spacingAndGlyphs">1.0</text>
<path d="M1472 754h35a2 2 0 0 1 2 2v13a2 2 0 0 1 -2 2h-35z" fill="#ff6d00"/><text x="1480" y="766.7" font-size="12.4" fill="#fff" stroke="#fff" stroke-width="0.3" textLength="23" lengthAdjust="spacingAndGlyphs">−2.5</text>
<rect x="1475.5" y="0.5" width="57" height="27" rx="4" fill="#fff" stroke="#e0e3eb"/>
<text x="1484" y="18.8" font-size="12" fill="#131722" textLength="22.2" lengthAdjust="spacingAndGlyphs">MYR</text>
<text x="54.6" y="807.8" font-size="12" fill="#131722" textLength="19.3" lengthAdjust="spacingAndGlyphs">Feb</text>
<text x="168.2" y="807.8" font-size="12" fill="#131722" textLength="19.9" lengthAdjust="spacingAndGlyphs">Mar</text>
<text x="289.1" y="807.8" font-size="12" fill="#131722" textLength="18.3" lengthAdjust="spacingAndGlyphs">Apr</text>
<text x="407.2" y="807.8" font-size="12" fill="#131722" textLength="22" lengthAdjust="spacingAndGlyphs">May</text>
<text x="534.8" y="807.8" font-size="12" fill="#131722" textLength="18.8" lengthAdjust="spacingAndGlyphs">Jun</text>
<text x="643.9" y="807.8" font-size="12" fill="#131722" textLength="16.7" lengthAdjust="spacingAndGlyphs">Jul</text>
<text x="774.4" y="807.8" font-size="12" fill="#131722" textLength="19.7" lengthAdjust="spacingAndGlyphs">Aug</text>
<text x="906.9" y="807.8" font-size="12" fill="#131722" textLength="18.6" lengthAdjust="spacingAndGlyphs">Sep</text>
<text x="1026.6" y="807.8" font-size="12" fill="#131722" textLength="19.2" lengthAdjust="spacingAndGlyphs">Oct</text>
<text x="1157.9" y="807.8" font-size="12" fill="#131722" textLength="20.7" lengthAdjust="spacingAndGlyphs">Nov</text>
<text x="1284.7" y="807.8" font-size="12" fill="#131722" textLength="19" lengthAdjust="spacingAndGlyphs">Dec</text>
<text x="1420.3" y="807.8" font-size="12" fill="#131722" text-anchor="middle" font-weight="bold" textLength="26.3" lengthAdjust="spacingAndGlyphs">2025</text>
<text x="8.2" y="16.1" font-size="12.4" fill="#131722" textLength="229.2" lengthAdjust="spacingAndGlyphs">FTSE Bursa Malaysia KLCI Futures, 1D, MYX</text>
<text x="245.1" y="16.1" font-size="12.4" fill="#131722" textLength="7.1" lengthAdjust="spacingAndGlyphs">O</text>
<text x="254.1" y="16.1" font-size="12.4" fill="#089981" textLength="39" lengthAdjust="spacingAndGlyphs">1,622.0</text>
<text x="301" y="16.1" font-size="12.4" fill="#131722" textLength="6.5" lengthAdjust="spacingAndGlyphs">H</text>
<text x="309.2" y="16.1" font-size="12.4" fill="#089981" textLength="39.2" lengthAdjust="spacingAndGlyphs">1,634.0</text>
<text x="356.6" y="16.1" font-size="12.4" fill="#131722" textLength="4.8" lengthAdjust="spacingAndGlyphs">L</text>
<text x="363" y="16.1" font-size="12.4" fill="#089981" textLength="38.8" lengthAdjust="spacingAndGlyphs">1,621.0</text>
<text x="409.8" y="16.1" font-size="12.4" fill="#131722" textLength="5.8" lengthAdjust="spacingAndGlyphs">C</text>
<text x="417.7" y="16.1" font-size="12.4" fill="#089981" textLength="38.8" lengthAdjust="spacingAndGlyphs">1,632.0</text>
<text x="464.7" y="16.1" font-size="12.4" fill="#089981" textLength="71.4" lengthAdjust="spacingAndGlyphs">+7.5 (+0.46%)</text>
<text x="8.2" y="32.9" font-size="12.4" fill="#131722" textLength="15.5" lengthAdjust="spacingAndGlyphs">Vol</text>
<text x="32" y="32.9" font-size="12.4" fill="#26a69a" textLength="31.6" lengthAdjust="spacingAndGlyphs">3.74K</text>
<text x="8.2" y="49.7" font-size="12.4" fill="#131722" textLength="87.1" lengthAdjust="spacingAndGlyphs">SMA (200, close)</text>
<text x="104.1" y="49.7" font-size="12.4" fill="#2962ff" textLength="38.4" lengthAdjust="spacingAndGlyphs">1,608.1</text>
<text x="8.2" y="66.7" font-size="12.4" fill="#131722" textLength="80.9" lengthAdjust="spacingAndGlyphs">SMA (50, close)</text>
<text x="98.1" y="66.7" font-size="12.4" fill="#f23645" textLength="38.9" lengthAdjust="spacingAndGlyphs">1,609.6</text>
<text x="7.9" y="685.2" font-size="12.4" fill="#131722" textLength="110.5" lengthAdjust="spacingAndGlyphs">MACD (12, 26, close)</text>
<text x="126.5" y="685.2" font-size="12.4" fill="#26a69a" textLength="16" lengthAdjust="spacingAndGlyphs">3.5</text>
<text x="151" y="685.2" font-size="12.4" fill="#2962ff" textLength="16" lengthAdjust="spacingAndGlyphs">1.0</text>
<text x="174.5" y="685.2" font-size="12.4" fill="#ff6d00" textLength="23.5" lengthAdjust="spacingAndGlyphs">−2.5</text>
</svg>
</body></html>
